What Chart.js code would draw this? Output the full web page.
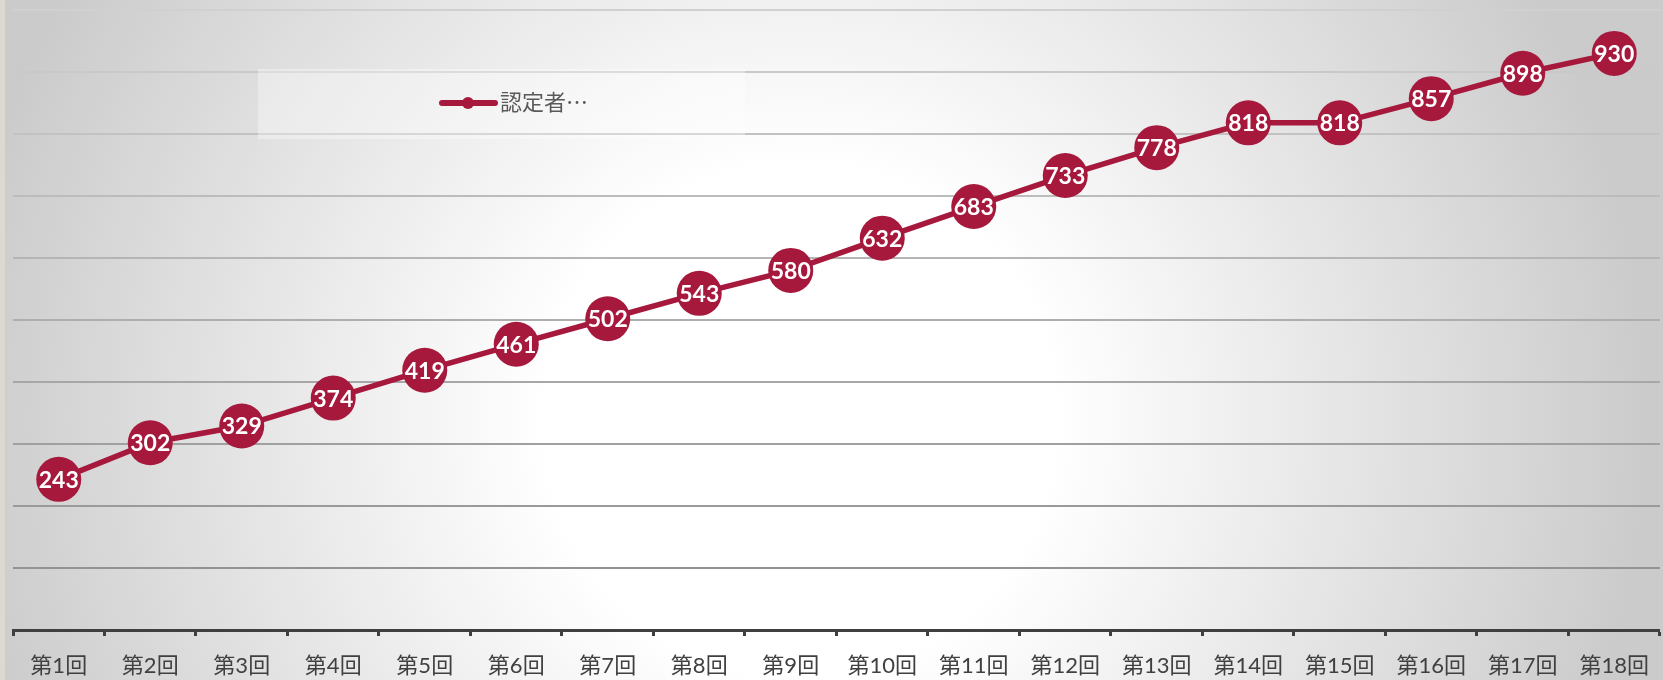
<!DOCTYPE html>
<html lang="ja">
<head>
<meta charset="utf-8">
<title>認定者数の推移</title>
<script src="https://cdn.jsdelivr.net/npm/chart.js@4/dist/chart.umd.min.js"></script>
<style>
  html, body { margin: 0; padding: 0; overflow: hidden; }
  #wrap {
    position: relative;
    width: 1666px;
    height: 680px;
    background: radial-gradient(circle 850px at 800px 420px, #ffffff 0%, #ffffff 30%, #cbcbcb 100%);
  }
  #edge {
    position: absolute; left: 0; top: 0; width: 5px; height: 680px;
    background: #dcd9d3; border-right: 1px solid #cfcdc8;
  }
</style>
</head>
<body>
<div id="wrap">
  <canvas id="chart"></canvas>
  <div id="edge"></div>
</div>
<script>
// データ
const labels = [
  "第1回", "第2回", "第3回", "第4回", "第5回", "第6回", "第7回", "第8回", "第9回",
  "第10回", "第11回", "第12回", "第13回", "第14回", "第15回", "第16回", "第17回", "第18回",
];
const seriesName = "認定者…";
const counts = [243, 302, 329, 374, 419, 461, 502, 543, 580, 632, 683, 733, 778, 818, 818, 857, 898, 930];
const yMin = 0;
const yMax = 1000;
const yStep = 100;

const mainColor = "#A6193C";

// 点の中に数値を描く
const pointLabels = {
  id: "pointLabels",
  afterDatasetsDraw(chart) {
    const ctx = chart.ctx;
    const meta = chart.getDatasetMeta(0);
    const values = chart.data.datasets[0].data;
    ctx.save();
    ctx.fillStyle = "#ffffff";
    ctx.font = "bold 23px Lato, 'DejaVu Sans', sans-serif";
    ctx.textAlign = "center";
    ctx.textBaseline = "middle";
    meta.data.forEach((pt, i) => {
      ctx.fillText(String(values[i]), pt.x, pt.y + 1);
    });
    ctx.restore();
  },
};

// 凡例（プロット内の半透明ボックス）
const boxLegend = {
  id: "boxLegend",
  beforeDatasetsDraw(chart) {
    const ctx = chart.ctx;
    const ds = chart.data.datasets[0];
    ctx.save();
    ctx.fillStyle = "rgba(255,255,255,0.35)";
    ctx.fillRect(258, 69, 487, 70);
    // 線とマーカー
    ctx.strokeStyle = ds.borderColor;
    ctx.lineWidth = 6;
    ctx.lineCap = "round";
    ctx.beginPath();
    ctx.moveTo(442, 103);
    ctx.lineTo(495, 103);
    ctx.stroke();
    ctx.fillStyle = ds.borderColor;
    ctx.beginPath();
    ctx.arc(468, 103, 6, 0, Math.PI * 2);
    ctx.fill();
    // ラベル
    ctx.fillStyle = "#595959";
    ctx.font = "22px 'Noto Sans CJK JP', sans-serif";
    ctx.textAlign = "left";
    ctx.textBaseline = "middle";
    ctx.fillText(ds.label, 500, 102);
    ctx.restore();
  },
};

function gridShade(value) {
  const c = Math.round(140 + (value / yMax) * 68);
  return `rgb(${c},${c},${c})`;
}

new Chart(document.getElementById("chart"), {
  type: "line",
  data: {
    labels: labels,
    datasets: [
      {
        label: seriesName,
        data: counts,
        borderColor: mainColor,
        backgroundColor: mainColor,
        borderWidth: 5.5,
        pointRadius: 22.5,
        pointHoverRadius: 22.5,
        pointBackgroundColor: mainColor,
        pointBorderWidth: 0,
        tension: 0,
        clip: false,
      },
    ],
  },
  options: {
    responsive: true,
    maintainAspectRatio: false,
    animation: false,
    layout: { autoPadding: false, padding: { top: 10, right: 0, bottom: 0, left: 0 } },
    plugins: {
      legend: { display: false },
      tooltip: { enabled: false },
    },
    scales: {
      x: {
        offset: true,
        grid: {
          offset: true,
          drawOnChartArea: false,
          drawTicks: true,
          tickLength: 6,
          tickWidth: 3,
          tickColor: "#3f3f3f",
        },
        border: { display: true, color: "#3f3f3f", width: 3 },
        ticks: {
          color: "#404040",
          padding: 17,
          maxRotation: 0,
          autoSkip: false,
          font: { family: "Lato, 'Noto Sans CJK JP', sans-serif", size: 22 },
        },
        afterFit(scale) {
          scale.height = 50;
        },
      },
      y: {
        min: yMin,
        max: yMax,
        ticks: { display: false, stepSize: yStep },
        grid: {
          drawTicks: false,
          lineWidth: (ctx) => (ctx.tick && ctx.tick.value === 0 ? 0 : 2),
          color: (ctx) => gridShade(ctx.tick ? ctx.tick.value : 0),
        },
        border: { display: false },
        afterFit(scale) {
          scale.width = 13;
        },
      },
    },
  },
  plugins: [pointLabels, boxLegend],
});
</script>
</body>
</html>
